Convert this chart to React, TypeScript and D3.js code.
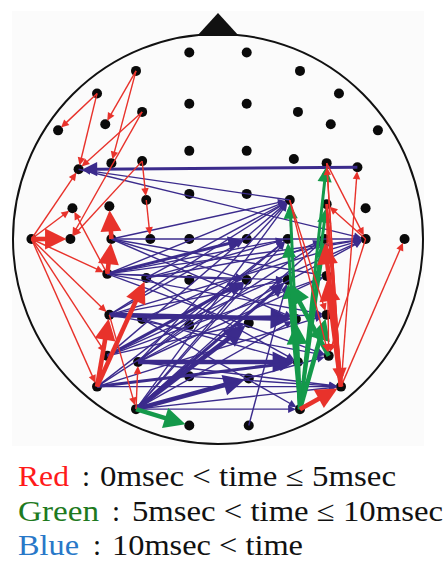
import React from 'react';
import { scaleLinear, scaleOrdinal } from 'd3';

// electrode positions in head units (centre 0,0, radius 100, nose up)
const electrodes: [number, number][] = [
    [-14, -91], [14, -91], [-40, -82], [40, -82], [-59, -71], [59, -71],
    [-37, -62], [-14, -66], [14, -66], [39, -62], [-55, -56], [55, -56],
    [-78, -53], [78, -53],
    [-68, -34], [-52, -37], [-37, -38], [-14, -43], [14, -43], [37, -39], [53, -37], [68, -35],
    [-71, -15], [-53, -16], [-35, -19], [-14, -22], [14, -22], [35, -19], [53, -17], [72, -15],
    [-91, 0], [-72, 0], [-52, 0], [-33, 0], [-14, 0], [14, 0], [34, 0], [52, 0], [72, 0], [91, 0],
    [-54, 17], [-35, 19], [-14, 20], [14, 20], [34, 20], [53, 18],
    [-53, 37], [-37, 39], [-14, 42], [15, 41], [38, 39], [53, 37],
    [-54, 57], [-39, 60], [-14, 67], [15, 68], [39, 60], [54, 57],
    [-59, 72], [60, 72], [-40, 83], [40, 83], [-14, 91], [15, 91],
];

// [from, to, weight]
const redLinks: [number, number, number][] = [
    [2, 10, 1], [2, 15, 1], [4, 12, 1], [4, 14, 1], [6, 14, 1], [6, 31, 1],
    [16, 31, 1], [16, 24, 1], [24, 33, 1], [30, 14, 1], [30, 22, 1], [30, 31, 3],
    [40, 22, 1], [30, 40, 1], [30, 46, 1], [30, 52, 1], [30, 58, 1], [46, 60, 1],
    [60, 53, 1], [58, 46, 3], [40, 32, 3], [32, 23, 3], [58, 41, 3],
    [20, 38, 1], [59, 21, 1], [38, 28, 1], [59, 39, 1], [20, 59, 1], [59, 20, 1],
    [27, 57, 1], [38, 57, 1], [27, 51, 1], [28, 57, 1],
    [61, 59, 3], [59, 37, 3], [59, 45, 3], [28, 59, 2],
];

const greenLinks: [number, number, number][] = [
    [60, 62, 3], [61, 20, 2], [61, 27, 2], [61, 28, 2], [61, 36, 2], [61, 37, 2],
    [61, 20, 1], [61, 27, 1], [61, 44, 2], [61, 50, 3], [61, 51, 3], [57, 44, 3],
];

const blueLinks: [number, number, number][] = [
    [21, 14, 2], [27, 14, 1], [14, 38, 1], [32, 38, 1], [40, 38, 1], [40, 27, 1],
    [46, 27, 1], [53, 27, 1], [60, 27, 1], [52, 27, 1], [32, 27, 1], [41, 27, 1],
    [40, 35, 2], [46, 35, 1], [53, 36, 1], [60, 36, 1], [32, 43, 1], [40, 44, 1],
    [46, 38, 1], [52, 38, 1], [58, 37, 1], [41, 38, 1], [46, 50, 3], [60, 49, 3],
    [53, 56, 3], [60, 55, 3], [58, 56, 2], [52, 49, 1], [47, 56, 1], [58, 59, 1],
    [60, 61, 1], [53, 59, 1], [60, 59, 1], [46, 57, 1], [40, 57, 1], [32, 50, 1],
    [41, 56, 1], [52, 43, 2], [60, 43, 1], [60, 44, 2], [63, 44, 1], [47, 61, 1],
    [54, 59, 1], [53, 45, 1], [58, 51, 1], [58, 36, 1], [46, 44, 1], [40, 36, 1],
    [40, 43, 1], [40, 51, 1], [32, 45, 1], [41, 36, 1], [47, 51, 1], [47, 37, 1],
    [53, 43, 1], [60, 50, 1], [60, 57, 1], [52, 45, 1], [60, 37, 1], [53, 38, 1],
];

const legendNames = ['Red', 'Green', 'Blue'];
const legendRanges = ['0msec < time \u2264 5msec', '5msec < time \u2264 10msec', '10msec < time'];

const W = 447;
const H = 563;

const x = scaleLinear().domain([-100, 100]).range([13, 423]);
const y = scaleLinear().domain([-100, 100]).range([34, 444]);
const strokeW = scaleLinear().domain([1, 3]).range([1.4, 4.6]);
const arrowColor = scaleOrdinal<string, string>()
    .domain(legendNames)
    .range(['#e8322b', '#14994a', '#3b2b8c']);
const textColor = scaleOrdinal<string, string>()
    .domain(legendNames)
    .range(['#ff1a1a', '#1e7a1e', '#2878c8']);

// legend text geometry
const nameWidths = [51, 81, 61];
const colonXs = [82, 112, 93];
const rangeXs = [100, 132, 112];
const rangeWidths = [296, 311, 191];

function Arrow({ link, color }: { link: [number, number, number]; color: string }) {
    const [a, b, wt] = link;
    const x1 = x(electrodes[a][0]);
    const y1 = y(electrodes[a][1]);
    const x2 = x(electrodes[b][0]);
    const y2 = y(electrodes[b][1]);
    const len = Math.hypot(x2 - x1, y2 - y1);
    const ux = (x2 - x1) / len;
    const uy = (y2 - y1) / len;
    const sw = strokeW(wt);
    const tipX = x2 - ux * 4;
    const tipY = y2 - uy * 4;
    const hl = 2 + 4.2 * sw;
    const hw = 0.8 + 2.1 * sw;
    const bx = tipX - ux * hl;
    const by = tipY - uy * hl;
    const pts = [
        [tipX, tipY],
        [bx - uy * hw, by + ux * hw],
        [bx + uy * hw, by - ux * hw],
    ].map(p => p.join(',')).join(' ');
    return (
        <g>
            <line x1={x1} y1={y1} x2={bx + ux} y2={by + uy} stroke={color} strokeWidth={sw} />
            <polygon points={pts} fill={color} />
        </g>
    );
}

export default function App() {
    const cx = x(0);
    const cy = y(0);
    const r = x(100) - x(0);
    const noseBase = y(-100) + 1;
    return (
        <svg
            width={W}
            height={H}
            style={{ position: 'absolute', left: 0, top: 0, background: '#fff' }}
        >
            <rect x={12} y={11} width={412} height={435} fill="#fbfbfb" />
            <polygon
                points={`${cx},${noseBase - 22} ${cx - 21},${noseBase + 1} ${cx + 21},${noseBase + 1}`}
                fill="#111"
            />
            <circle cx={cx} cy={cy} r={r} fill="none" stroke="#111" strokeWidth={2} />
            {electrodes.map((e, i) => (
                <circle key={i} cx={x(e[0])} cy={y(e[1])} r={5} fill="#0a0a0a" />
            ))}
            {blueLinks.map((l, i) => <Arrow key={'b' + i} link={l} color={arrowColor('Blue')} />)}
            {greenLinks.map((l, i) => <Arrow key={'g' + i} link={l} color={arrowColor('Green')} />)}
            {redLinks.map((l, i) => <Arrow key={'r' + i} link={l} color={arrowColor('Red')} />)}
            <g fontFamily="'Liberation Serif', 'DejaVu Serif', serif" fontSize={29}>
                {legendNames.map((name, i) => {
                    const base = 486 + i * 34.5;
                    return (
                        <g key={name}>
                            <text x={18} y={base} fill={textColor(name)}
                                textLength={nameWidths[i]} lengthAdjust="spacingAndGlyphs">{name}</text>
                            <text x={colonXs[i]} y={base} fill="#111">:</text>
                            <text x={rangeXs[i]} y={base} fill="#111"
                                textLength={rangeWidths[i]} lengthAdjust="spacingAndGlyphs">{legendRanges[i]}</text>
                        </g>
                    );
                })}
            </g>
        </svg>
    );
}
